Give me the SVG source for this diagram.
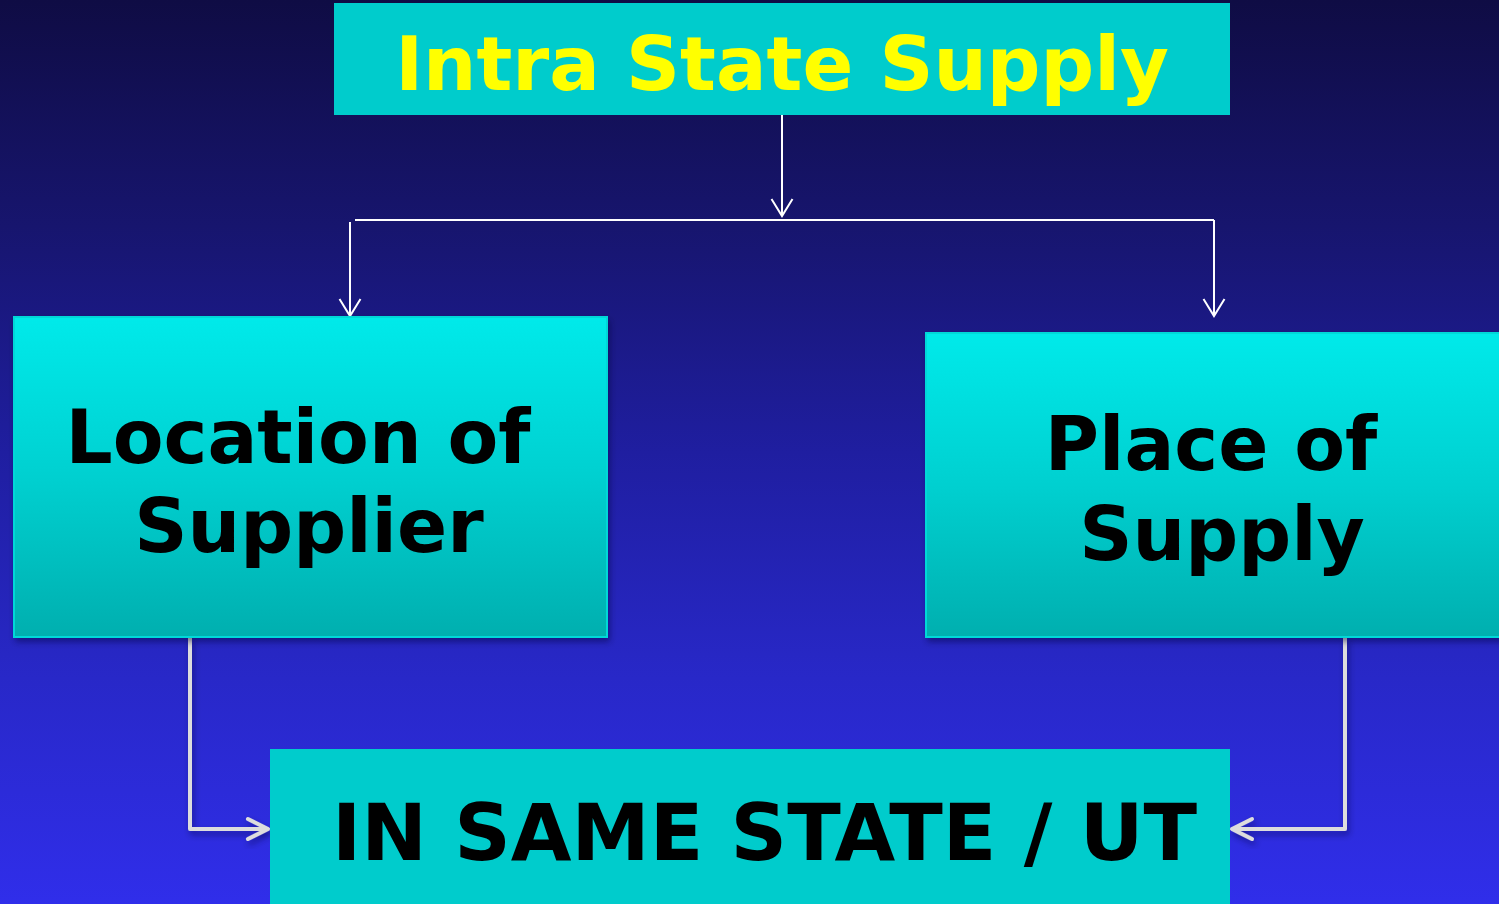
<svg xmlns="http://www.w3.org/2000/svg" width="1499" height="904" viewBox="0 0 1499 904">
  <defs>
    <linearGradient id="bg" x1="0" y1="0" x2="0" y2="1">
      <stop offset="0" stop-color="#0F0C44"/>
      <stop offset="0.25" stop-color="#17156E"/>
      <stop offset="0.5" stop-color="#1F1EA0"/>
      <stop offset="0.75" stop-color="#2828C8"/>
      <stop offset="1" stop-color="#302EEA"/>
    </linearGradient>
    <linearGradient id="boxFill" x1="0" y1="0" x2="0" y2="1">
      <stop offset="0" stop-color="#00EAEA"/>
      <stop offset="0.5" stop-color="#00D0D0"/>
      <stop offset="1" stop-color="#00AFAF"/>
    </linearGradient>
    <filter id="shadow" x="-5%" y="-5%" width="110%" height="115%">
      <feDropShadow dx="2" dy="4" stdDeviation="3" flood-color="#000030" flood-opacity="0.45"/>
    </filter>
    <!-- open arrowheads drawn along +x so orient="auto" follows the line -->
    <marker id="thinArrow" viewBox="0 0 24 24" refX="18" refY="12" markerWidth="24" markerHeight="24" markerUnits="userSpaceOnUse" orient="auto">
      <path d="M1 1.5 L18 12 L1 22.5" fill="none" stroke="#FFFFFF" stroke-width="2"/>
    </marker>
    <marker id="thickArrow" viewBox="0 0 28 28" refX="24" refY="14" markerWidth="28" markerHeight="28" markerUnits="userSpaceOnUse" orient="auto">
      <path d="M4 4 L24 14 L4 24" fill="none" stroke="#DDDDDD" stroke-width="4" stroke-linecap="round" stroke-linejoin="round"/>
    </marker>
  </defs>
  <style>
    .label { font-family: "DejaVu Sans", Verdana, sans-serif; font-weight: bold; }
    .title { fill: #FFFF00; font-size: 75px; }
    .dark { fill: #000000; font-size: 74px; }
    .big { font-size: 78.5px; }
    .thin { fill: none; stroke: #FFFFFF; stroke-width: 2; }
    .thick { fill: none; stroke: #DDDDDD; stroke-width: 4; stroke-linejoin: round; }
  </style>

  <rect x="0" y="0" width="1499" height="904" fill="url(#bg)"/>

  <g id="connectors">
    <line class="thin" x1="782" y1="115" x2="782" y2="216" marker-end="url(#thinArrow)"/>
    <line class="thin" x1="355" y1="220" x2="1214" y2="220"/>
    <line class="thin" x1="350" y1="222" x2="350" y2="316" marker-end="url(#thinArrow)"/>
    <line class="thin" x1="1214" y1="220" x2="1214" y2="316" marker-end="url(#thinArrow)"/>
    <g filter="url(#shadow)">
      <polyline class="thick" points="190,637 190,829 268,829" marker-end="url(#thickArrow)"/>
      <polyline class="thick" points="1345,637 1345,829 1232,829" marker-end="url(#thickArrow)"/>
    </g>
  </g>

  <g id="intra-state-supply">
    <rect x="334" y="3" width="896" height="112" fill="#00CCCC"/>
    <text class="label title" x="782" y="90" text-anchor="middle">Intra State Supply</text>
  </g>

  <g id="location-of-supplier">
    <rect x="14" y="317" width="593" height="320" fill="url(#boxFill)" stroke="#00D8D8" stroke-width="2" filter="url(#shadow)"/>
    <text class="label dark" x="298" y="463" text-anchor="middle">Location of</text>
    <text class="label dark" x="309" y="552" text-anchor="middle">Supplier</text>
  </g>

  <g id="place-of-supply">
    <rect x="926" y="333" width="580" height="304" fill="url(#boxFill)" stroke="#00D8D8" stroke-width="2" filter="url(#shadow)"/>
    <text class="label dark" x="1211" y="470" text-anchor="middle">Place of</text>
    <text class="label dark" x="1222" y="560" text-anchor="middle">Supply</text>
  </g>

  <g id="same-state-ut">
    <rect x="270" y="749" width="960" height="160" fill="#00CCCC"/>
    <text class="label dark big" x="332" y="860">IN SAME STATE / UT</text>
  </g>
</svg>
